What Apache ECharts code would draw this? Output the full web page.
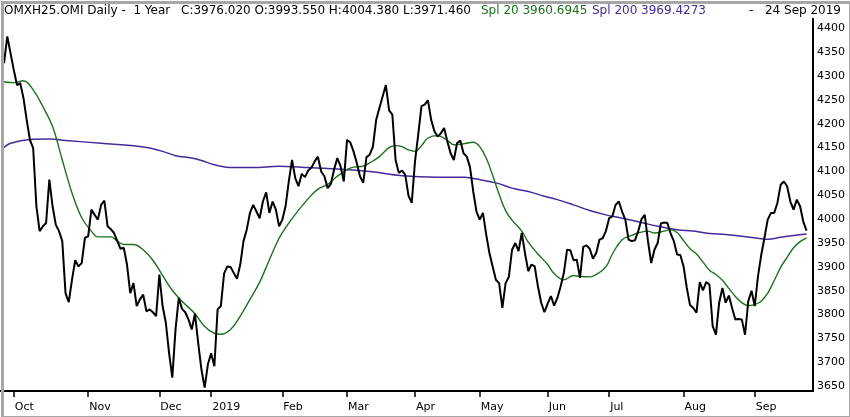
<!DOCTYPE html>
<html>
<head>
<meta charset="utf-8">
<script src="https://cdn.jsdelivr.net/npm/echarts@6/dist/echarts.min.js"></script>
<style>
  html, body { margin: 0; padding: 0; background: #fff; }
  #main { width: 850px; height: 417px; }
</style>
</head>
<body>
<div id="main"></div>
<script>
// Helsinki trading days, 26 Sep 2018 - 24 Sep 2019
const startDate = "2018-09-26";
const endDate = "2019-09-24";
const holidays = ["2018-12-06", "2018-12-24", "2018-12-25", "2018-12-26", "2018-12-31",
  "2019-01-01", "2019-04-19", "2019-04-22", "2019-05-01", "2019-05-30", "2019-06-21"];
// empty slots around the data, as in the original
const leadDays = ["2018-09-25"];
const padDays = ["2019-09-25", "2019-09-26"];

const monthNames = ["2019", "Feb", "Mar", "Apr", "May", "Jun", "Jul", "Aug", "Sep", "Oct", "Nov", "Dec"];
const yTickLabels = [3650, 3700, 3750, 3800, 3850, 3900, 3950, 4000, 4050, 4100, 4150, 4200, 4250, 4300, 4350, 4400];

// daily close
const closeValues = [
  4327, 4383, 4348, 4313, 4281, 4285, 4254, 4208, 4166, 4149,
  4027, 3975, 3985, 3992, 4083, 4027, 3988, 3975, 3954, 3845,
  3826, 3873, 3914, 3901, 3908, 3961, 3964, 4020, 4009, 3999,
  4030, 4039, 3985, 3979, 3971, 3954, 3938, 3940, 3905, 3845,
  3866, 3818, 3832, 3842, 3807, 3811, 3805, 3797, 3884, 3818,
  3783, 3720, 3668, 3769, 3835, 3812, 3805, 3790, 3769, 3802,
  3741, 3685, 3647, 3696, 3719, 3692, 3811, 3818, 3886, 3901,
  3900, 3887, 3875, 3905, 3954, 3978, 4013, 4030, 4016, 4002,
  4037, 4056, 4013, 4037, 4020, 3985, 3999, 4027, 4079, 4124,
  4086, 4069, 4095, 4088, 4102, 4108, 4121, 4131, 4100, 4090,
  4065, 4074, 4104, 4128, 4111, 4079, 4166, 4161, 4142, 4118,
  4090, 4076, 4130, 4135, 4152, 4208, 4233, 4257, 4281, 4228,
  4219, 4124, 4097, 4102, 4093, 4049, 4034, 4121, 4177, 4237,
  4240, 4249, 4208, 4184, 4173, 4180, 4191, 4163, 4138, 4124,
  4159, 4165, 4138, 4131, 4109, 4058, 4016, 3999, 4013, 3968,
  3929, 3901, 3873, 3866, 3814, 3866, 3879, 3936, 3950, 3933,
  3971, 3929, 3891, 3905, 3901, 3859, 3825, 3805, 3823, 3839,
  3819, 3835, 3859, 3887, 3936, 3935, 3914, 3915, 3877, 3942,
  3945, 3938, 3917, 3929, 3957, 3960, 3975, 4002, 4006, 4030,
  4037, 4016, 3999, 3957, 3954, 3956, 3975, 4000, 4009, 3954,
  3908, 3936, 3950, 3991, 3993, 3992, 3970, 3954, 3926, 3925,
  3901, 3856, 3820, 3814, 3804, 3868, 3851, 3868, 3863, 3776,
  3758, 3825, 3856, 3825, 3840, 3814, 3790, 3791, 3790, 3758,
  3828, 3850, 3818, 3880, 3925, 3961, 3999, 4013, 4013, 4034,
  4072, 4079, 4069, 4037, 4020, 4041, 4027, 3995, 3976
];

// Spl 20, read at sample days (trading day index, 0 = 26 Sep 2018)
const spl20Days = [0, 3, 6, 9, 12, 15, 18, 21, 24, 27, 29, 31, 33, 35, 37, 40, 43, 46, 49, 52,
  55, 59, 62, 65, 67, 70, 73, 76, 79, 82, 85, 87, 90, 94, 97, 100, 103, 106, 108, 111,
  113, 116, 119, 121, 123, 125, 127, 129, 131, 134, 137, 139, 142, 145, 147, 149, 151, 153, 155, 157,
  160, 162, 165, 168, 170, 173, 176, 178, 181, 183, 186, 188, 191, 194, 196, 199, 201, 204, 206, 208,
  210, 212, 214, 216, 218, 220, 222, 224, 226, 228, 230, 232, 234, 236, 238, 240, 242, 244, 246, 248];
const spl20Values = [4288, 4286, 4290, 4271, 4236, 4194, 4124, 4055, 4003, 3975, 3963, 3963, 3963, 3954, 3947, 3947, 3936, 3914, 3882, 3851,
  3828, 3802, 3775, 3761, 3759, 3769, 3797, 3832, 3868, 3915, 3960, 3982, 4010, 4043, 4063, 4073, 4090, 4104, 4109, 4111,
  4118, 4131, 4150, 4154, 4152, 4145, 4142, 4154, 4170, 4175, 4165, 4156, 4158, 4161, 4152, 4128, 4092, 4052, 4018, 3998,
  3975, 3952, 3927, 3905, 3886, 3873, 3882, 3880, 3879, 3884, 3900, 3927, 3957, 3966, 3971, 3975, 3971, 3975, 3978, 3972,
  3955, 3938, 3927, 3910, 3893, 3884, 3872, 3855, 3838, 3825, 3819, 3821, 3828, 3845, 3871, 3899, 3920, 3940, 3953, 3961];

// Spl 200
const spl200Days = [0, 2, 8, 14, 19, 30, 40, 45, 50, 53, 58, 61, 65, 71, 77, 85, 92, 103, 113, 123,
  134, 142, 146, 152, 157, 162, 167, 171, 176, 181, 186, 191, 197, 202, 208, 213, 218, 223, 228, 233,
  236, 240, 244, 248];
const spl200Values = [4150, 4159, 4167, 4168, 4165, 4159, 4154, 4149, 4140, 4133, 4128, 4123, 4114, 4108, 4108, 4111, 4109, 4105, 4100, 4091,
  4088, 4088, 4084, 4076, 4065, 4058, 4048, 4041, 4030, 4018, 4009, 4002, 3993, 3985, 3978, 3975, 3970, 3968, 3964, 3960,
  3958, 3962, 3966, 3969];

function fmt(d) {
  return d.toISOString().slice(0, 10);
}

function tradingDays() {
  const out = [];
  const d = new Date(startDate + "T00:00:00Z");
  const end = new Date(endDate + "T00:00:00Z");
  while (d <= end) {
    const wd = d.getUTCDay();
    const s = fmt(d);
    if (wd !== 0 && wd !== 6 && holidays.indexOf(s) < 0) out.push(s);
    d.setUTCDate(d.getUTCDate() + 1);
  }
  return out;
}

const dates = leadDays.concat(tradingDays(), padDays);
const offset = leadDays.length;

function isMonthStart(index) {
  if (index <= offset || index >= dates.length) return false;
  return dates[index].slice(5, 7) !== dates[index - 1].slice(5, 7);
}

function pairs(days, values) {
  return days.map(function (d, i) { return [d + offset, values[i]]; });
}

const chart = echarts.init(document.getElementById("main"));

const font = "DejaVu Sans";
const green = "#1d701d";
const purple = "#452a9c";

chart.setOption({
  animation: false,
  backgroundColor: "#fff",
  grid: {
    left: 0.8,
    right: 37,
    top: 18.7,
    bottom: 26
  },
  xAxis: {
    type: "category",
    data: dates,
    boundaryGap: false,
    axisLine: { lineStyle: { color: "#000", width: 2 } },
    axisTick: {
      interval: isMonthStart,
      length: 6,
      lineStyle: { color: "#000", width: 1.5 }
    },
    axisLabel: {
      interval: isMonthStart,
      formatter: function (v) {
        return monthNames[parseInt(v.slice(5, 7), 10) - 1];
      },
      align: "left",
      padding: [0, 0, 0, 1],
      margin: 11,
      color: "#000",
      fontFamily: font,
      fontSize: 11
    },
    splitLine: { show: false }
  },
  yAxis: {
    type: "value",
    position: "right",
    min: 3640,
    max: 4420,
    interval: 10,
    axisLine: { show: true, lineStyle: { color: "#000", width: 2 } },
    axisTick: { show: false },
    splitLine: { show: false },
    axisLabel: {
      formatter: function (v) {
        return yTickLabels.indexOf(v) >= 0 ? String(v) : "";
      },
      margin: 4,
      color: "#000",
      fontFamily: font,
      fontSize: 11
    }
  },
  series: [
    {
      name: "Spl 200",
      type: "line",
      data: pairs(spl200Days, spl200Values),
      smooth: 0.4,
      symbol: "none",
      lineStyle: { color: purple, width: 1.5 },
      z: 2
    },
    {
      name: "Spl 20",
      type: "line",
      data: pairs(spl20Days, spl20Values),
      smooth: 0.4,
      symbol: "none",
      lineStyle: { color: green, width: 1.4 },
      z: 3
    },
    {
      name: "OMXH25.OMI",
      type: "line",
      data: leadDays.map(function () { return null; }).concat(closeValues),
      symbol: "none",
      lineStyle: { color: "#000", width: 2 },
      z: 4
    }
  ],
  graphic: [
    {
      type: "text", left: 4, top: 5,
      style: { text: "OMXH25.OMI Daily -  1 Year", fill: "#000", font: "12px " + font }
    },
    {
      type: "text", left: 181, top: 5,
      style: { text: "C:3976.020 O:3993.550 H:4004.380 L:3971.460", fill: "#000", font: "12px " + font }
    },
    {
      type: "text", left: 481, top: 5,
      style: { text: "Spl 20 3960.6945", fill: green, font: "12px " + font }
    },
    {
      type: "text", left: 592, top: 5,
      style: { text: "Spl 200 3969.4273", fill: purple, font: "12px " + font }
    },
    {
      type: "text", left: 749, top: 5,
      style: { text: "-", fill: "#000", font: "12px " + font }
    },
    {
      type: "text", right: 9, top: 5,
      style: { text: "24 Sep 2019", fill: "#000", font: "12px " + font }
    },
    {
      type: "rect", left: 0, top: 0, z: 100,
      shape: { x: 0, y: 0, width: 848, height: 415 },
      style: { fill: "none", stroke: "#a6a6a6", lineWidth: 3 }
    }
  ]
});
</script>
</body>
</html>
